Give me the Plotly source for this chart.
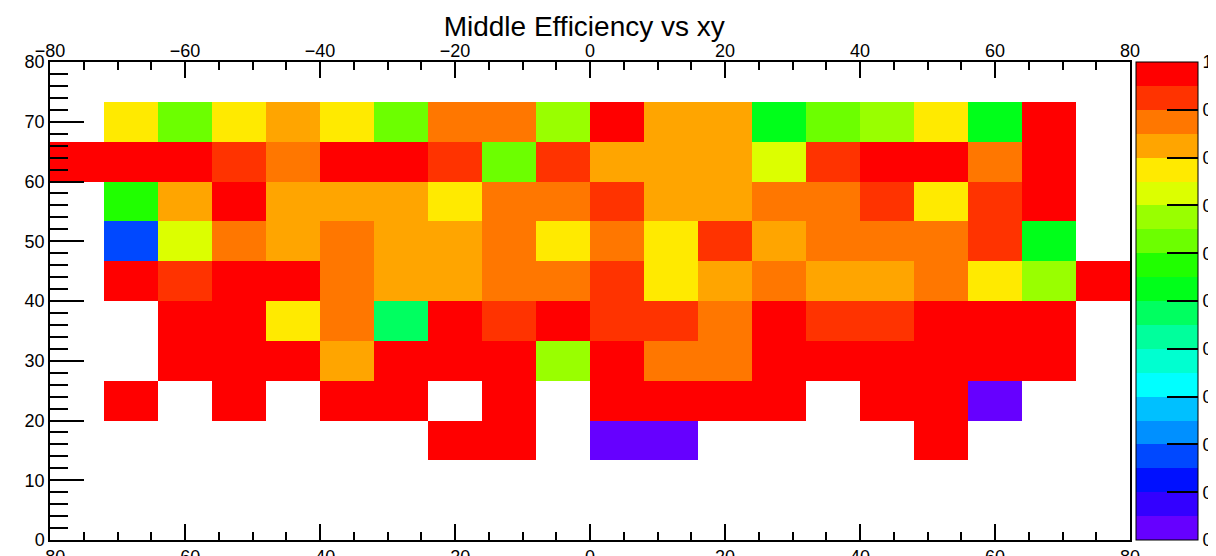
import plotly.graph_objects as go

# bin edges of the 2D histogram
x_edges = [-80, -72, -64, -56, -48, -40, -32, -24, -16, -8, 0,
           8, 16, 24, 32, 40, 48, 56, 64, 72, 80]
y_edges = [0, 6.667, 13.333, 20, 26.667, 33.333, 40,
           46.667, 53.333, 60, 66.667, 73.333, 80]

N = None
# efficiency per bin, row 0 = lowest y bin
eff = [
    [N, N, N, N, N, N, N, N, N, N, N, N, N, N, N, N, N, N, N, N],
    [N, N, N, N, N, N, N, N, N, N, N, N, N, N, N, N, N, N, N, N],
    [N, N, N, N, N, N, N, 0.98, 0.98, N, 0.02, 0.02, N, N, N, N, 0.98, N, N, N],
    [N, 0.98, N, 0.98, N, 0.98, 0.98, N, 0.98, N, 0.98, 0.98, 0.98, 0.98, N, 0.98, 0.98, 0.02, N, N],
    [N, N, 0.98, 0.98, 0.98, 0.83, 0.98, 0.98, 0.98, 0.68, 0.98, 0.88, 0.88, 0.98, 0.98, 0.98, 0.98, 0.98, 0.98, N],
    [N, N, 0.98, 0.98, 0.78, 0.88, 0.48, 0.98, 0.93, 0.98, 0.93, 0.93, 0.88, 0.98, 0.93, 0.93, 0.98, 0.98, 0.98, N],
    [N, 0.98, 0.93, 0.98, 0.98, 0.88, 0.83, 0.83, 0.88, 0.88, 0.93, 0.78, 0.83, 0.88, 0.83, 0.83, 0.88, 0.78, 0.68, 0.98],
    [N, 0.18, 0.73, 0.88, 0.83, 0.88, 0.83, 0.83, 0.88, 0.78, 0.88, 0.78, 0.93, 0.83, 0.88, 0.88, 0.88, 0.93, 0.53, N],
    [N, 0.58, 0.83, 0.98, 0.83, 0.83, 0.83, 0.78, 0.88, 0.88, 0.93, 0.83, 0.83, 0.88, 0.88, 0.93, 0.78, 0.93, 0.98, N],
    [0.98, 0.98, 0.98, 0.93, 0.88, 0.98, 0.98, 0.93, 0.63, 0.93, 0.83, 0.83, 0.83, 0.73, 0.93, 0.98, 0.98, 0.88, 0.98, N],
    [N, 0.78, 0.63, 0.78, 0.83, 0.78, 0.63, 0.88, 0.88, 0.68, 0.98, 0.83, 0.83, 0.53, 0.63, 0.68, 0.78, 0.53, 0.98, N],
    [N, N, N, N, N, N, N, N, N, N, N, N, N, N, N, N, N, N, N, N],
]

# ROOT style palette, 20 levels from 0 to 1
palette = ['#6600ff', '#3300ff', '#0010ff', '#0048ff', '#0090ff',
           '#00c0ff', '#00ffff', '#00ffd0', '#00ff9c', '#00ff60',
           '#00ff1a', '#20ff00', '#6cff00', '#99ff00', '#dcff00',
           '#ffea00', '#ffa500', '#ff7700', '#ff3300', '#ff0000']

cbar_vals = [0, 0.1, 0.2, 0.3, 0.4, 0.5, 0.6, 0.7, 0.8, 0.9, 1.0]
cbar_text = ['0', '0', '0', '0', '0', '0', '0', '0', '0', '0', '1']

scale = []
n = len(palette)
for i, c in enumerate(palette):
    scale.append([i / n, c])
    scale.append([(i + 1) / n, c])

fnt = 'Liberation Sans, Arial, sans-serif'

fig = go.Figure()
fig.add_trace(go.Heatmap(
    x=x_edges, y=y_edges, z=eff,
    zmin=0, zmax=1, colorscale=scale, hoverongaps=False,
    colorbar=dict(
        x=1.0056, xanchor='left', xpad=0, thickness=62,
        y=0.5, len=1, ypad=0,
        outlinewidth=1, outlinecolor='black',
        tickmode='array', tickvals=cbar_vals, ticktext=cbar_text,
        ticks='inside', ticklen=31, tickcolor='black', tickwidth=1.5,
        tickfont=dict(family=fnt, size=18, color='black'),
    ),
))
# dummy trace so the top axis is drawn
fig.add_trace(go.Scatter(x=[None], y=[None], xaxis='x2', showlegend=False,
                         hoverinfo='skip'))

axis_font = dict(family=fnt, size=18, color='black')
# page body has an 8px margin, so the figure is a little smaller
fig.update_layout(
    width=1208, height=548,
    margin=dict(l=42, r=86, t=54, b=16, autoexpand=False),
    paper_bgcolor='white', plot_bgcolor='white',
    title=dict(text='Middle Efficiency vs xy', x=0.477, xanchor='center',
               y=0.967, yanchor='middle',
               font=dict(family=fnt, size=28, color='black')),
    xaxis=dict(range=[-80, 80], tick0=-80, dtick=20, showgrid=False,
               zeroline=False, showline=True, linecolor='black', linewidth=1.5,
               mirror='allticks', ticks='inside', ticklen=16, tickwidth=1.5,
               tickcolor='black', tickfont=axis_font,
               minor=dict(dtick=5, ticks='inside', ticklen=8, tickwidth=1.5,
                          tickcolor='black', showgrid=False)),
    xaxis2=dict(range=[-80, 80], overlaying='x', side='top', tick0=-80,
                dtick=20, showgrid=False, zeroline=False, showline=False,
                ticks='', tickfont=axis_font),
    yaxis=dict(range=[0, 80], dtick=10, showgrid=False, zeroline=False,
               showline=True, linecolor='black', linewidth=1.5, mirror=True,
               ticks='inside', ticklen=34, tickwidth=1.5, tickcolor='black',
               tickfont=axis_font,
               minor=dict(dtick=2, ticks='inside', ticklen=18, tickwidth=1.5,
                          tickcolor='black', showgrid=False)),
)

fig.write_html("out.html")
